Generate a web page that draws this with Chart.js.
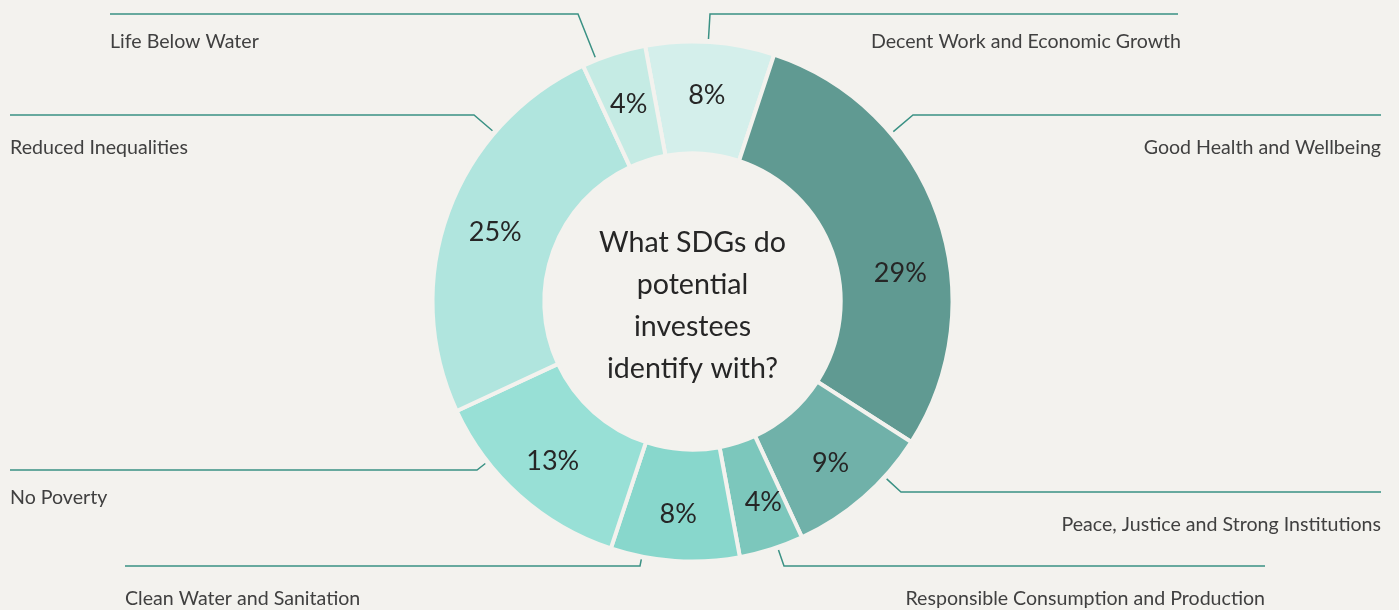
<!DOCTYPE html>
<html>
<head>
<meta charset="utf-8">
<script src="https://cdn.jsdelivr.net/npm/chart.js@4.4.1/dist/chart.umd.min.js"></script>
<style>
  html, body { margin: 0; padding: 0; background: #f3f2ee; }
  #wrap { width: 1399px; height: 610px; }
</style>
</head>
<body>
<div id="wrap"><canvas id="sdgChart" width="1399" height="610"></canvas></div>
<script>
// Data (clockwise from the top)
const categories = [
    "Decent Work and Economic Growth",
    "Good Health and Wellbeing",
    "Peace, Justice and Strong Institutions",
    "Responsible Consumption and Production",
    "Clean Water and Sanitation",
    "No Poverty",
    "Reduced Inequalities",
    "Life Below Water"
];
const shares = [8, 29, 9, 4, 8, 13, 25, 4];
const centerTitle = ["What SDGs do", "potential", "investees", "identify with?"];

// Styles
const bgColor = "#f3f2ee";
const sliceColors = ["#d4efeb", "#609a92", "#70b1a9", "#7cc7bc", "#88d7cc", "#98e0d6", "#b0e5de", "#c5ebe4"];
const leaderColor = "#3a9184";
const fontFamily = "Lato, 'Open Sans', sans-serif";

// Label layout: elbow of the leader line, the far end of its horizontal run, and the text
const labelLayout = [
    { elbowX: 710, lineY: 14,  endX: 1178, textX: 1181, textY: 42,  align: "right" },
    { elbowX: 913, lineY: 115, endX: 1381, textX: 1381, textY: 148, align: "right" },
    { elbowX: 901, lineY: 492, endX: 1381, textX: 1381, textY: 525, align: "right" },
    { elbowX: 784, lineY: 566, endX: 1265, textX: 1265, textY: 599, align: "right" },
    { elbowX: 640, lineY: 566, endX: 125,  textX: 125,  textY: 599, align: "left" },
    { elbowX: 477, lineY: 470, endX: 10,   textX: 10,   textY: 498, align: "left" },
    { elbowX: 474, lineY: 115, endX: 10,   textX: 10,   textY: 148, align: "left" },
    { elbowX: 578, lineY: 14,  endX: 110,  textX: 110,  textY: 42,  align: "left" }
];
// small angular nudge (degrees) for the value labels that sit off the slice middle
const pctNudge = [0, 11, 0, -2, 0, 0, 0, 0];

// Draw labels, leader lines and the centre title
const labelPlugin = {
    id: "sdgLabels",
    afterDraw(chart) {
        const ctx = chart.ctx;
        const meta = chart.getDatasetMeta(0);
        const total = shares.reduce((a, b) => a + b, 0);
        ctx.save();
        meta.data.forEach((arc, i) => {
            const cx = arc.x, cy = arc.y;
            const R = arc.outerRadius, r = arc.innerRadius;

            // value inside the slice
            const mid = (arc.startAngle + arc.endAngle) / 2 + pctNudge[i] * Math.PI / 180;
            const rr = (R + r) / 2 + 6;
            ctx.fillStyle = "#262626";
            ctx.font = "27px " + fontFamily;
            ctx.textAlign = "center";
            ctx.textBaseline = "middle";
            ctx.fillText(Math.round(shares[i] / total * 100) + "%", cx + rr * Math.cos(mid), cy + 3 + rr * Math.sin(mid));

            // leader line: from the slice edge toward the elbow, then horizontal
            const L = labelLayout[i];
            const dx = L.elbowX - cx, dy = L.lineY - cy;
            const len = Math.sqrt(dx * dx + dy * dy);
            const ax = cx + dx / len * (R + 3), ay = cy + dy / len * (R + 3);
            ctx.strokeStyle = leaderColor;
            ctx.lineWidth = 1.5;
            ctx.beginPath();
            ctx.moveTo(ax, ay);
            ctx.lineTo(L.elbowX, L.lineY);
            ctx.lineTo(L.endX, L.lineY);
            ctx.stroke();

            ctx.fillStyle = "#404040";
            ctx.font = "19.6px " + fontFamily;
            ctx.textAlign = L.align;
            ctx.fillText(categories[i], L.textX, L.textY);
        });

        // centre title
        const a0 = meta.data[0];
        ctx.fillStyle = "#262626";
        ctx.font = "28.6px " + fontFamily;
        ctx.textAlign = "center";
        ctx.textBaseline = "middle";
        const lh = 42;
        centerTitle.forEach((line, k) => {
            ctx.fillText(line, a0.x, a0.y + 4 + (k - (centerTitle.length - 1) / 2) * lh);
        });
        ctx.restore();
    }
};

const chart = new Chart(document.getElementById("sdgChart").getContext("2d"), {
    type: "doughnut",
    data: {
        labels: categories,
        datasets: [{
            data: shares,
            backgroundColor: sliceColors,
            borderColor: bgColor,
            borderWidth: 4
        }]
    },
    options: {
        responsive: false,
        animation: false,
        devicePixelRatio: 1,
        rotation: -10.5,
        radius: 260,
        cutout: "57%",
        layout: { padding: { left: 0, right: 14, top: 0, bottom: 7 } },
        plugins: { legend: { display: false }, tooltip: { enabled: false } }
    },
    plugins: [labelPlugin]
});
</script>
</body>
</html>
